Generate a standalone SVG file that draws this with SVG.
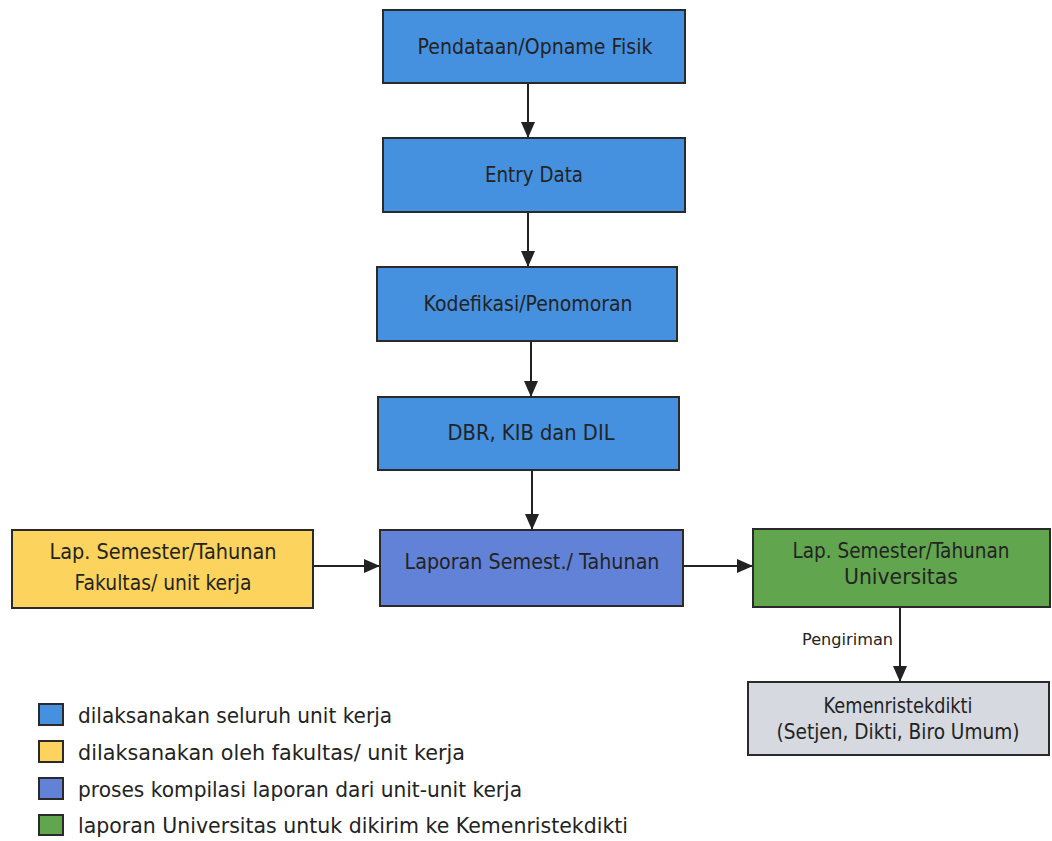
<svg xmlns="http://www.w3.org/2000/svg" width="1052" height="841" viewBox="0 0 1052 841">
<style>
  .box{stroke:#2a2a2a;stroke-width:2}
  .blue{fill:#4591e0}
  .purple{fill:#6282d8}
  .yellow{fill:#fcd35c}
  .green{fill:#62a54f}
  .gray{fill:#d6d9df}
  .t{font-family:"DejaVu Sans","Liberation Sans",sans-serif;font-size:21px;fill:#232323;text-anchor:middle}
  .lg{font-family:"DejaVu Sans","Liberation Sans",sans-serif;font-size:22px;fill:#232323}
  .sm{font-family:"DejaVu Sans","Liberation Sans",sans-serif;font-size:16px;fill:#232323}
  .c{stroke:#222;stroke-width:2;fill:none;marker-end:url(#ah)}
</style>
<defs>
  <marker id="ah" markerUnits="userSpaceOnUse" markerWidth="16" markerHeight="14" refX="16" refY="7" orient="auto">
    <path d="M0,0 L16,7 L0,14 z" fill="#222"/>
  </marker>
</defs>
<rect width="1052" height="841" fill="#fff"/>
<g id="connectors">
  <line class="c" x1="528" y1="83" x2="528" y2="138"/>
  <line class="c" x1="528" y1="212" x2="528" y2="267"/>
  <line class="c" x1="531" y1="341" x2="531" y2="397"/>
  <line class="c" x1="532" y1="470" x2="532" y2="530"/>
  <line class="c" x1="313" y1="566" x2="380" y2="566"/>
  <line class="c" x1="683" y1="566" x2="753" y2="566"/>
  <line class="c" x1="900" y1="607" x2="900" y2="682"/>
  <text class="sm" x="802" y="645" textLength="91" lengthAdjust="spacingAndGlyphs">Pengiriman</text>
</g>
<g id="n1">
  <rect class="box blue" x="383" y="10" width="302" height="73"/>
  <text class="t" x="535" y="54" textLength="235" lengthAdjust="spacingAndGlyphs">Pendataan/Opname Fisik</text>
</g>
<g id="n2">
  <rect class="box blue" x="383" y="138" width="302" height="74"/>
  <text class="t" x="534" y="182" textLength="98" lengthAdjust="spacingAndGlyphs">Entry Data</text>
</g>
<g id="n3">
  <rect class="box blue" x="377" y="267" width="300" height="74"/>
  <text class="t" x="528" y="311" textLength="209" lengthAdjust="spacingAndGlyphs">Kodefikasi/Penomoran</text>
</g>
<g id="n4">
  <rect class="box blue" x="378" y="397" width="301" height="73"/>
  <text class="t" x="531" y="440" textLength="167" lengthAdjust="spacingAndGlyphs">DBR, KIB dan DIL</text>
</g>
<g id="n5">
  <rect class="box purple" x="380" y="530" width="303" height="76"/>
  <text class="t" x="532" y="569" textLength="255" lengthAdjust="spacingAndGlyphs">Laporan Semest./ Tahunan</text>
</g>
<g id="n6">
  <rect class="box yellow" x="12" y="530" width="301" height="78"/>
  <text class="t" x="163" y="559" textLength="227" lengthAdjust="spacingAndGlyphs">Lap. Semester/Tahunan</text>
  <text class="t" x="163" y="590" textLength="177" lengthAdjust="spacingAndGlyphs">Fakultas/ unit kerja</text>
</g>
<g id="n7">
  <rect class="box green" x="753" y="529" width="297" height="78"/>
  <text class="t" x="901" y="558" textLength="217" lengthAdjust="spacingAndGlyphs">Lap. Semester/Tahunan</text>
  <text class="t" x="901" y="584" textLength="114" lengthAdjust="spacingAndGlyphs">Universitas</text>
</g>
<g id="n8">
  <rect class="box gray" x="748" y="682" width="301" height="73"/>
  <text class="t" x="898" y="713" textLength="149" lengthAdjust="spacingAndGlyphs">Kemenristekdikti</text>
  <text class="t" x="898" y="739" textLength="243" lengthAdjust="spacingAndGlyphs">(Setjen, Dikti, Biro Umum)</text>
</g>
<g id="legend">
  <rect class="box blue" x="39" y="704" width="24" height="21"/>
  <text class="lg" x="78" y="723" textLength="314" lengthAdjust="spacingAndGlyphs">dilaksanakan seluruh unit kerja</text>
  <rect class="box yellow" x="39" y="741" width="24" height="21"/>
  <text class="lg" x="78" y="760" textLength="387" lengthAdjust="spacingAndGlyphs">dilaksanakan oleh fakultas/ unit kerja</text>
  <rect class="box purple" x="39" y="778" width="24" height="21"/>
  <text class="lg" x="78" y="797" textLength="444" lengthAdjust="spacingAndGlyphs">proses kompilasi laporan dari unit-unit kerja</text>
  <rect class="box green" x="39" y="815" width="24" height="20"/>
  <text class="lg" x="78" y="833" textLength="550" lengthAdjust="spacingAndGlyphs">laporan Universitas untuk dikirim ke Kemenristekdikti</text>
</g>
</svg>
